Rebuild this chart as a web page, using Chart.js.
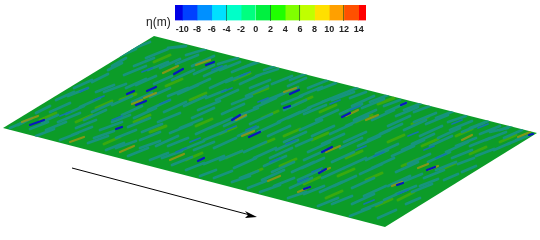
<!DOCTYPE html>
<html>
<head>
<meta charset="utf-8">
<script src="https://cdn.jsdelivr.net/npm/chart.js@4"></script>
<style>
  html, body { margin: 0; padding: 0; background: #fff; }
  #wrap { position: relative; width: 540px; height: 240px; overflow: hidden; }
  #surface { position: absolute; left: 0; top: 0; }
  #bar { position: absolute; left: 165px; top: 0; }
  #label { position: absolute; left: 146px; top: 15px; font: 12px "Liberation Sans", sans-serif; color: #222; white-space: nowrap; }
</style>
</head>
<body>
<div id="wrap">
  <canvas id="surface" width="540" height="240"></canvas>
  <canvas id="bar" width="211" height="36"></canvas>
  <div id="label">η(m)</div>
</div>
<script>
// Colour bar
const levelEdges = [-11, -10, -8, -6, -4, -2, 0, 2, 4, 6, 8, 10, 12, 14, 15];
const levelColors = ['#0000e6', '#0040ff', '#0090ff', '#00e0ff', '#00ffc8', '#00ff80', '#00f040',
  '#20ff00', '#80ff00', '#c0ff00', '#ffe000', '#ffa000', '#ff5000', '#ff0000'];
const tickValues = [-10, -8, -6, -4, -2, 0, 2, 4, 6, 8, 10, 12, 14];
const darkTicks = [-4, 2, 6, 12];

// Surface outline and arrow
const outlineX = [3, 154, 537, 385, 3];
const outlineY = [128, 36, 133, 227, 128];
const arrowLine = [72, 168, 250, 215];
const arrowHeadX = [257, 245, 248, 245, 257];
const arrowHeadY = [217, 211, 215, 218, 217];

// Wave crests and troughs as [x0, y0, x1, y1]
const tealStreaks = [
  [18,125,32,118],[30,129,48,122],[36,113,50,106],
  [50,112,70,103],[46,130,66,122],[58,122,80,113],[60,140,78,133],[72,135,92,127],
  [68,96,88,88],[80,107,100,98],[84,120,106,110],[88,143,108,136],[100,130,122,122],[106,150,124,143],
  [92,82,108,74],[104,92,126,84],[112,105,132,96],[122,115,142,106],[116,138,136,130],[128,127,150,118],[128,156,148,148],[140,140,160,132],
  [112,66,126,58],[124,75,146,66],[136,85,156,76],[150,97,170,88],[148,110,170,100],[158,122,180,113],[156,146,178,136],[150,160,168,153],[170,133,192,124],
  [132,49,150,42],[146,58,168,49],[160,68,180,59],[172,80,194,70],[178,94,198,85],[184,106,206,96],[192,118,214,108],[172,165,192,157],[182,150,204,141],[196,134,218,124],
  [168,48,186,46],[186,55,206,49],[192,66,214,56],[204,76,226,66],[210,88,232,78],[216,100,238,90],[222,114,244,104],[210,128,232,118],[214,148,236,138],[204,164,224,156],[200,176,216,170],
  [218,64,238,58],[232,72,254,63],[240,84,262,74],[246,96,268,86],[254,108,276,98],[250,124,272,114],[238,136,258,127],[244,152,266,142],[234,168,256,158],[232,182,250,176],
  [256,76,278,69],[272,84,292,76],[276,97,298,87],[284,110,306,100],[278,122,300,112],[268,136,290,126],[276,150,298,140],[264,166,286,156],[262,180,284,170],[260,192,280,185],
  [288,86,306,78],[300,96,322,87],[308,108,330,99],[316,120,338,110],[300,130,322,120],[296,146,312,139],[304,160,326,150],[292,172,314,162],[290,188,312,178],[288,198,306,192],
  [318,90,336,83],[332,100,354,92],[340,114,362,104],[346,126,368,116],[330,134,352,124],[340,148,362,138],[332,162,354,152],[322,178,344,168],[320,192,342,182],[318,206,338,198],
  [350,98,366,92],[362,108,384,99],[372,120,394,110],[380,134,402,124],[358,146,380,136],[366,160,388,150],[360,174,382,164],[352,188,374,178],[352,204,374,194],[350,216,370,208],
  [384,106,400,100],[396,116,418,107],[404,130,426,120],[412,144,434,134],[392,156,414,146],[396,172,418,162],[388,186,410,176],[384,200,406,190],[378,218,396,210],
  [414,112,430,106],[426,124,448,115],[438,138,460,128],[446,152,468,142],[428,162,450,152],[424,178,444,170],[412,192,432,184],[406,204,420,198],
  [448,122,466,116],[462,132,484,123],[470,146,490,138],[480,134,500,126],[458,164,474,158],[444,180,458,174],
  [490,132,508,128],[504,138,522,130],[494,150,510,143],[516,140,528,136]
];
const tealStreaks2 = [
  [10,128,24,122],[24,110,40,102],[42,122,58,115],[56,100,74,92],[36,136,54,129],[66,114,84,106],
  [76,128,96,120],[74,88,92,80],[92,112,112,103],[96,92,114,85],[94,138,114,131],[116,148,136,141],[108,70,122,63],
  [126,88,146,79],[132,102,152,93],[112,122,130,115],[134,118,156,108],[140,148,160,141],[120,56,136,49],[134,66,154,58],
  [154,84,172,76],[142,132,162,124],[164,112,186,102],[168,146,188,138],[148,70,168,62],[168,96,188,88],[162,158,182,151],
  [176,64,198,55],[180,128,202,119],[190,88,210,79],[198,110,220,101],[194,150,214,142],[186,170,204,163],[194,74,214,65],
  [206,98,226,90],[224,126,246,116],[204,140,226,131],[220,70,240,62],[226,82,246,74],[232,104,252,96],[220,160,242,151],[214,178,232,171],
  [242,68,262,61],[250,88,270,80],[238,116,258,108],[258,132,280,122],[254,158,276,148],[240,178,258,171],[248,188,266,181],[262,102,284,93],
  [264,70,282,64],[282,104,302,96],[288,118,310,108],[284,142,306,132],[272,172,294,162],[270,158,292,148],[274,186,294,178],[290,80,308,73],
  [308,88,328,80],[322,102,342,94],[304,114,326,105],[312,136,334,126],[308,152,330,142],[302,168,324,158],[304,194,324,186],[298,180,320,170],
  [342,94,362,86],[352,106,374,96],[354,120,376,110],[322,144,344,134],[344,142,366,132],[344,168,366,158],[334,186,356,176],[332,204,352,196],
  [370,102,388,95],[386,112,406,103],[388,126,410,116],[368,140,390,130],[376,154,398,144],[372,168,394,158],[364,196,386,186],[362,210,382,202],
  [404,110,422,103],[414,122,436,113],[420,136,442,126],[402,150,424,140],[408,164,430,154],[402,182,422,174],[396,194,416,186],
  [436,118,454,111],[450,130,472,121],[430,146,452,136],[456,146,476,138],[436,170,456,162],[420,186,438,179],[452,158,472,150],
  [470,128,488,121],[486,140,506,132],[476,156,494,149],[500,130,514,125],[508,144,522,138],[462,172,476,166]
];
const deepStreaks = [
  [60,116,70,112],[94,100,104,96],[112,120,122,116],[142,72,152,68],[160,104,170,100],[190,142,200,138],[222,92,232,88],
  [258,102,268,98],[286,144,296,140],[312,172,322,168],[350,110,360,106],[374,156,384,152],[408,136,418,132],[436,158,446,154],[478,128,488,124],
  [330,104,340,100],[246,130,256,126],[212,70,222,66],[398,194,408,190],[298,182,308,178],[32,108,40,104],[80,92,88,88],[176,152,186,148],
  [226,130,236,126],[270,162,280,158],[356,150,366,146],[364,204,374,200],[424,150,434,146],[452,124,462,120],[240,76,250,72]
];
const limeStreaks = [
  [40,120,56,113],[76,122,92,115],[96,108,112,101],[120,100,136,94],[134,122,150,115],[104,144,120,137],[150,132,166,126],
  [154,62,170,55],[166,86,182,79],[190,100,206,93],[196,126,212,119],[186,160,202,153],[220,134,236,127],[226,158,242,151],
  [234,80,250,73],[252,94,268,88],[262,118,278,111],[258,146,274,139],[246,176,262,169],[284,136,300,129],[280,166,296,159],
  [296,104,312,97],[320,112,336,105],[312,140,328,133],[304,184,320,177],[338,176,354,169],[326,198,342,191],
  [356,122,372,115],[378,104,394,98],[366,180,382,173],[346,158,362,151],[388,142,404,135],[376,206,392,199],
  [412,124,428,117],[402,166,418,159],[422,146,438,139],[398,200,414,192],[440,170,456,163],[456,136,472,129],[470,154,486,147],[500,142,516,135]
];
const oliveStreaks = [
  [22,122,38,116],[163,73,178,66],[196,65,210,60],[144,98,156,93],[132,104,142,100],[70,142,84,137],[120,152,134,146],[170,160,184,154],
  [242,136,254,131],[236,120,246,115],[284,92,296,88],[346,116,358,110],[366,120,378,115],[326,152,340,146],[320,172,330,168],
  [298,192,310,187],[268,181,280,176],[418,168,428,164],[428,170,438,166],[462,140,472,135],[518,137,530,132],[392,186,402,182]
];
const blueStreaks = [
  [30,125,44,120],[127,94,134,91],[147,91,156,87],[136,105,146,101],[174,74,183,69],[206,65,214,62],[116,129,122,127],
  [232,120,240,115],[249,137,260,132],[290,94,299,90],[284,108,290,106],[342,117,350,113],[401,105,406,103],
  [322,152,332,147],[319,173,326,169],[304,189,310,187],[427,170,435,167],[397,185,403,183],[529,135,533,134],[198,161,204,158]
];

// Lines with a gap between streaks, drawn through the chart scales
function streakPoints(list) {
  const pts = [];
  list.forEach(s => {
    pts.push({x: s[0], y: s[1]}, {x: s[2], y: s[3]}, {x: s[2], y: null});
  });
  return pts;
}

function streakSet(list, color, width, order) {
  return {
    data: streakPoints(list),
    borderColor: color,
    borderWidth: width,
    borderCapStyle: 'round',
    pointRadius: 0,
    spanGaps: false,
    order: order,
    isStreak: true
  };
}

// Soft edges on the streaks, kept inside the surface outline
const softStreaks = {
  id: 'softStreaks',
  beforeDatasetDraw(chart, args) {
    if (!args.meta._dataset.isStreak) return;
    const ctx = chart.ctx;
    const xs = chart.scales.x, ys = chart.scales.y;
    ctx.save();
    ctx.beginPath();
    outlineX.forEach((x, i) => ctx.lineTo(xs.getPixelForValue(x), ys.getPixelForValue(outlineY[i])));
    ctx.clip();
    ctx.filter = 'blur(0.5px)';
  },
  afterDatasetDraw(chart, args) {
    if (args.meta._dataset.isStreak) chart.ctx.restore();
  }
};

new Chart(document.getElementById('surface'), {
  type: 'line',
  plugins: [softStreaks],
  data: {
    datasets: [
      {
        data: outlineX.map((x, i) => ({x: x, y: outlineY[i]})),
        borderColor: '#0c9c28', borderWidth: 0, backgroundColor: '#0c9c28',
        fill: 'shape', pointRadius: 0, tension: 0, order: 10
      },
      streakSet(limeStreaks, 'rgba(60,170,14,0.95)', 3, 9),
      streakSet(tealStreaks, 'rgb(22,148,124)', 2.8, 8),
      streakSet(tealStreaks2, 'rgb(22,148,124)', 2.8, 8),
      streakSet(deepStreaks, 'rgb(20,118,170)', 1.8, 7),
      streakSet(oliveStreaks, 'rgba(150,150,20,0.85)', 2.2, 6),
      streakSet(blueStreaks, 'rgb(8,24,190)', 2.2, 5),
      {
        data: [{x: arrowLine[0], y: arrowLine[1]}, {x: arrowLine[2], y: arrowLine[3]}],
        borderColor: '#000', borderWidth: 1, pointRadius: 0, order: 2
      },
      {
        data: arrowHeadX.map((x, i) => ({x: x, y: arrowHeadY[i]})),
        borderColor: '#000', borderWidth: 0, backgroundColor: '#000',
        fill: 'shape', pointRadius: 0, order: 1
      }
    ]
  },
  options: {
    responsive: false,
    animation: false,
    layout: { padding: 0 },
    plugins: { legend: { display: false }, tooltip: { enabled: false } },
    scales: {
      x: { type: 'linear', min: 0, max: 540, display: false },
      y: { type: 'linear', min: 0, max: 240, reverse: true, display: false }
    }
  }
});

// Legend bar: one floating bar per level
new Chart(document.getElementById('bar'), {
  type: 'bar',
  data: {
    labels: ['η'],
    datasets: levelColors.map((c, i) => ({
      data: [[levelEdges[i], levelEdges[i + 1]]],
      backgroundColor: c,
      grouped: false,
      barPercentage: 1,
      categoryPercentage: 1
    }))
  },
  options: {
    indexAxis: 'y',
    responsive: false,
    animation: false,
    layout: { padding: { left: 10, right: 10, top: 5, bottom: 0 } },
    plugins: { legend: { display: false }, tooltip: { enabled: false } },
    scales: {
      y: { display: false },
      x: {
        type: 'linear', min: -11, max: 15,
        afterBuildTicks: axis => { axis.ticks = tickValues.map(v => ({value: v})); },
        border: { display: false },
        grid: {
          z: 1, drawTicks: false,
          color: ctx => darkTicks.includes(ctx.tick && ctx.tick.value) ? 'rgba(30,70,30,0.6)' : 'rgba(0,0,0,0)'
        },
        ticks: {
          autoSkip: false, maxRotation: 0, padding: 4,
          color: '#222',
          font: { family: '"Liberation Sans", sans-serif', size: 9, weight: 'bold' }
        }
      }
    }
  }
});
</script>
</body>
</html>
